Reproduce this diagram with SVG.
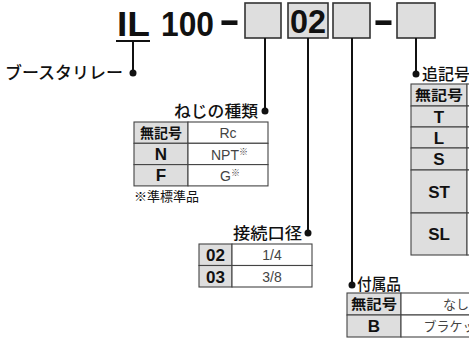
<svg xmlns="http://www.w3.org/2000/svg" width="469" height="339" viewBox="0 0 469 339">
<style>
.t{font-family:"Liberation Sans","Noto Sans CJK JP",sans-serif;fill:#111}
.b{font-weight:bold}
.jp{font-family:"Noto Sans CJK JP","Liberation Sans",sans-serif;fill:#111}
.lb{font-weight:500}
.box{fill:#dedede;stroke:#333;stroke-width:1.6}
.cg{fill:#dedede;stroke:#444;stroke-width:1.1}
.cw{fill:#fff;stroke:#444;stroke-width:1.1}
.ln{stroke:#111;stroke-width:2;fill:none}
.dot{fill:#111}
.c{text-anchor:middle}
.g{fill:#444}
</style>
<rect width="469" height="339" fill="#fff"/>
<g id="title">
<text class="t b" x="117" y="36" font-size="35" textLength="33" lengthAdjust="spacingAndGlyphs">IL</text>
<line x1="116" y1="41" x2="150" y2="41" stroke="#111" stroke-width="1.8"/>
<text class="t b" x="161" y="36" font-size="35" textLength="53" lengthAdjust="spacingAndGlyphs">100</text>
<text class="t b" x="219" y="32.5" font-size="38" textLength="21" lengthAdjust="spacingAndGlyphs">-</text>
<rect class="box" x="245" y="3" width="36" height="35"/>
<rect class="box" x="288" y="3" width="40" height="35"/>
<text class="t b c" x="308" y="33" font-size="34" textLength="36" lengthAdjust="spacingAndGlyphs">02</text>
<rect class="box" x="333" y="3" width="37" height="35"/>
<text class="t b" x="373" y="32.5" font-size="38" textLength="21" lengthAdjust="spacingAndGlyphs">-</text>
<rect class="box" x="397" y="3" width="38" height="35"/>
</g>
<g id="connectors">
<path class="ln" d="M133 41V73M265 38V111M308 38V233M352 38V285M416 38V74"/>
<circle class="dot" cx="133" cy="73" r="3.5"/>
<circle class="dot" cx="265" cy="111" r="3.5"/>
<circle class="dot" cx="308" cy="233" r="3.5"/>
<circle class="dot" cx="352" cy="285" r="3.5"/>
<circle class="dot" cx="416" cy="74" r="3.5"/>
</g>
<g id="booster">
<text class="jp lb" x="5" y="79" font-size="16.5" textLength="118" lengthAdjust="spacingAndGlyphs">ブースタリレー</text>
</g>
<g id="thread">
<text class="jp lb" x="174" y="117" font-size="16" textLength="84" lengthAdjust="spacingAndGlyphs">ねじの種類</text>
<rect class="cg" x="134" y="122" width="54" height="21.3"/>
<rect class="cw" x="188" y="122" width="80" height="21.3"/>
<rect class="cg" x="134" y="143.3" width="54" height="21.3"/>
<rect class="cw" x="188" y="143.3" width="80" height="21.3"/>
<rect class="cg" x="134" y="164.6" width="54" height="21.3"/>
<rect class="cw" x="188" y="164.6" width="80" height="21.3"/>
<text class="jp b c" x="161" y="138" font-size="13.5" textLength="42" lengthAdjust="spacingAndGlyphs">無記号</text>
<text class="t g c" x="228" y="138" font-size="14">Rc</text>
<text class="t b c" x="161" y="160" font-size="17">N</text>
<text class="t g" x="211" y="160" font-size="14">NPT<tspan font-size="9" dy="-5">※</tspan></text>
<text class="t b c" x="161" y="181" font-size="17">F</text>
<text class="t g" x="220" y="181" font-size="14">G<tspan font-size="9" dy="-5">※</tspan></text>
<text class="jp" x="134" y="201" font-size="13">※準標準品</text>
</g>
<g id="port">
<text class="jp lb" x="233" y="239" font-size="16" textLength="69" lengthAdjust="spacingAndGlyphs">接続口径</text>
<rect class="cg" x="199" y="244" width="33" height="21.5"/>
<rect class="cw" x="232" y="244" width="80" height="21.5"/>
<rect class="cg" x="199" y="265.5" width="33" height="21.5"/>
<rect class="cw" x="232" y="265.5" width="80" height="21.5"/>
<text class="t b c" x="215.5" y="261" font-size="17">02</text>
<text class="t g c" x="272" y="260" font-size="14">1/4</text>
<text class="t b c" x="215.5" y="282.5" font-size="17">03</text>
<text class="t g c" x="272" y="282" font-size="14">3/8</text>
</g>
<g id="accessory">
<text class="jp lb" x="357" y="290" font-size="16" textLength="44" lengthAdjust="spacingAndGlyphs">付属品</text>
<rect class="cg" x="347" y="293" width="54" height="22"/>
<rect class="cw" x="401" y="293" width="110" height="22"/>
<rect class="cg" x="347" y="315" width="54" height="22"/>
<rect class="cw" x="401" y="315" width="110" height="22"/>
<text class="jp b c" x="374" y="309" font-size="13.5" textLength="46" lengthAdjust="spacingAndGlyphs">無記号</text>
<text class="jp g c" x="456" y="309" font-size="13">なし</text>
<text class="t b c" x="374" y="332" font-size="17">B</text>
<text class="jp g c" x="456" y="331" font-size="13">ブラケット</text>
</g>
<g id="suffix">
<text class="jp lb" x="422" y="80" font-size="16">追記号</text>
<rect class="cg" x="411" y="84" width="56" height="22"/>
<rect class="cw" x="467" y="84" width="60" height="22"/>
<rect class="cg" x="411" y="106" width="56" height="21"/>
<rect class="cw" x="467" y="106" width="60" height="21"/>
<rect class="cg" x="411" y="127" width="56" height="21"/>
<rect class="cw" x="467" y="127" width="60" height="21"/>
<rect class="cg" x="411" y="148" width="56" height="22"/>
<rect class="cw" x="467" y="148" width="60" height="22"/>
<rect class="cg" x="411" y="170" width="56" height="43"/>
<rect class="cw" x="467" y="170" width="60" height="43"/>
<rect class="cg" x="411" y="213" width="56" height="42"/>
<rect class="cw" x="467" y="213" width="60" height="42"/>
<text class="jp b c" x="439" y="100" font-size="14" textLength="48" lengthAdjust="spacingAndGlyphs">無記号</text>
<text class="t b c" x="439" y="123" font-size="17">T</text>
<text class="t b c" x="439" y="144" font-size="17">L</text>
<text class="t b c" x="439" y="165" font-size="17">S</text>
<text class="t b c" x="439" y="198" font-size="17">ST</text>
<text class="t b c" x="439" y="240" font-size="17">SL</text>
</g>
</svg>
